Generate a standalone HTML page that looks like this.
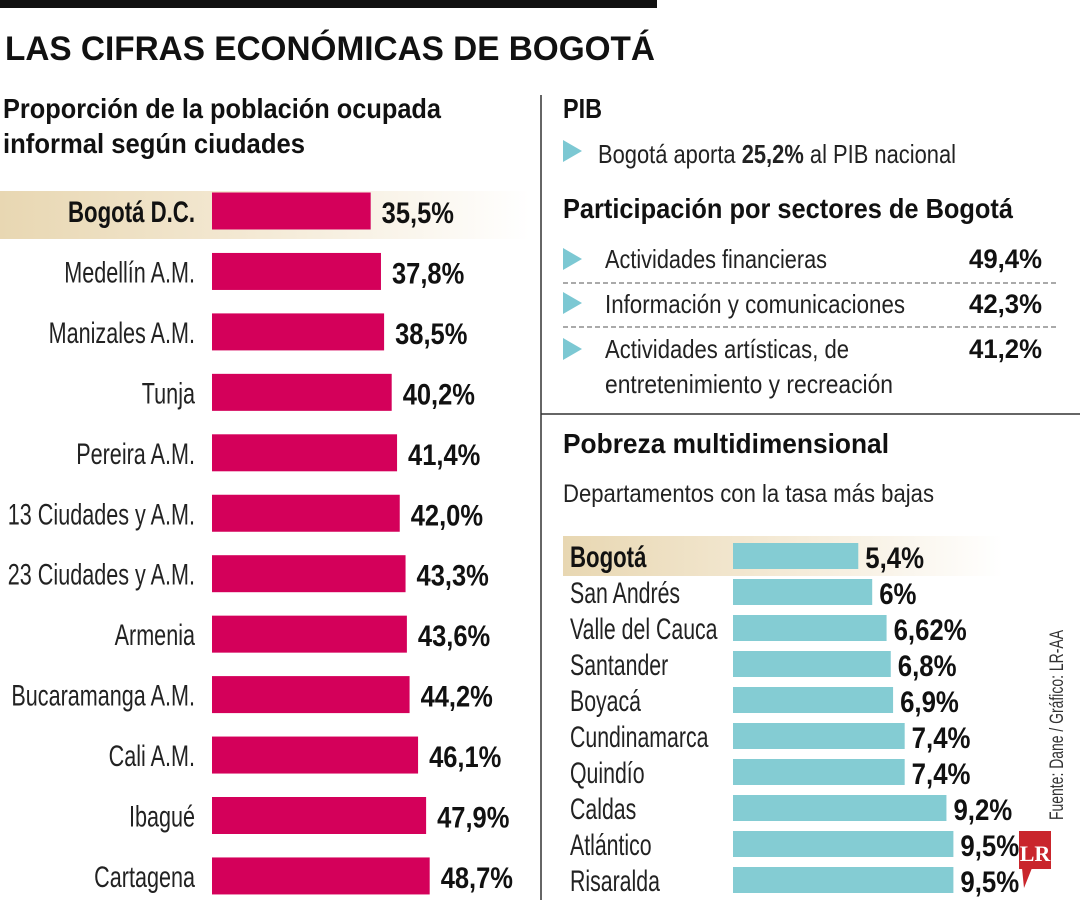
<!DOCTYPE html>
<html><head><meta charset="utf-8"><style>
html,body{margin:0;padding:0;background:#fff;}
svg{display:block;font-family:"Liberation Sans",sans-serif;}
</style></head><body>
<svg id="c" width="1080" height="900" viewBox="0 0 1080 900" xmlns="http://www.w3.org/2000/svg">
<defs>
<linearGradient id="hl" x1="0" x2="1" y1="0" y2="0">
<stop offset="0" stop-color="#e8d7b2"/><stop offset="0.45" stop-color="#f3e8d2"/><stop offset="1" stop-color="#ffffff"/>
</linearGradient>
</defs>
<rect x="0" y="0" width="657" height="8" fill="#111"/>
<text x="5" y="60" font-size="34" font-weight="bold" textLength="650" lengthAdjust="spacingAndGlyphs" fill="#111">LAS CIFRAS ECONÓMICAS DE BOGOTÁ</text>
<text x="3" y="118" font-size="28" font-weight="bold" textLength="438" lengthAdjust="spacingAndGlyphs" fill="#111">Proporción de la población ocupada</text>
<text x="3" y="153" font-size="28" font-weight="bold" textLength="302" lengthAdjust="spacingAndGlyphs" fill="#111">informal según ciudades</text>
<line x1="541" y1="95" x2="541" y2="900" stroke="#333" stroke-width="1.5"/>
<rect x="0" y="191" width="530" height="48" fill="url(#hl)"/>

<text x="563" y="118" font-size="28" font-weight="bold" textLength="39" lengthAdjust="spacingAndGlyphs" fill="#111">PIB</text>
<polygon points="563,140 582,151 563,162" fill="#7cc8d3"/>
<text x="598" y="163" font-size="26" textLength="358" lengthAdjust="spacingAndGlyphs" fill="#222">Bogotá aporta <tspan font-weight="bold">25,2%</tspan> al PIB nacional</text>
<text x="563" y="218" font-size="28" font-weight="bold" textLength="450" lengthAdjust="spacingAndGlyphs" fill="#111">Participación por sectores de Bogotá</text>

<polygon points="563,248 582,259 563,270" fill="#7cc8d3"/>
<text x="605" y="268" font-size="26" textLength="222" lengthAdjust="spacingAndGlyphs" fill="#222">Actividades financieras</text>
<text x="1042" y="268" font-size="27" font-weight="bold" text-anchor="end" textLength="73" lengthAdjust="spacingAndGlyphs" fill="#111">49,4%</text>
<line x1="563" y1="283" x2="1056" y2="283" stroke="#555" stroke-dasharray="5,3"/>
<polygon points="563,292 582,303 563,314" fill="#7cc8d3"/>
<text x="605" y="313" font-size="26" textLength="300" lengthAdjust="spacingAndGlyphs" fill="#222">Información y comunicaciones</text>
<text x="1042" y="313" font-size="27" font-weight="bold" text-anchor="end" textLength="73" lengthAdjust="spacingAndGlyphs" fill="#111">42,3%</text>
<line x1="563" y1="327" x2="1056" y2="327" stroke="#555" stroke-dasharray="5,3"/>
<polygon points="563,338 582,349 563,360" fill="#7cc8d3"/>
<text x="605" y="358" font-size="26" textLength="244" lengthAdjust="spacingAndGlyphs" fill="#222">Actividades artísticas, de</text>
<text x="605" y="393" font-size="26" textLength="288" lengthAdjust="spacingAndGlyphs" fill="#222">entretenimiento y recreación</text>
<text x="1042" y="358" font-size="27" font-weight="bold" text-anchor="end" textLength="73" lengthAdjust="spacingAndGlyphs" fill="#111">41,2%</text>
<line x1="541" y1="414" x2="1080" y2="414" stroke="#333" stroke-width="1.5"/>

<text x="563" y="453" font-size="28" font-weight="bold" textLength="326" lengthAdjust="spacingAndGlyphs" fill="#111">Pobreza multidimensional</text>
<text x="563" y="502" font-size="25" textLength="371" lengthAdjust="spacingAndGlyphs" fill="#222">Departamentos con la tasa más bajas</text>
<rect x="563" y="536" width="440" height="40" fill="url(#hl)"/>

<text transform="translate(1063,820) rotate(-90)" font-size="19" textLength="190" lengthAdjust="spacingAndGlyphs" fill="#333">Fuente: Dane / Gráfico: LR-AA</text>
<g>
<rect x="1019" y="831" width="32" height="38" fill="#c9252c"/>
<polygon points="1022,868 1032,868 1024,888" fill="#c9252c"/>
<text x="1035" y="861" font-size="22" font-weight="bold" font-family="Liberation Serif,serif" text-anchor="middle" fill="#fff">LR</text>
</g>
<g id="left"></g>
<g id="right"></g>
</svg>
<script>
const cities = ["Bogotá D.C.","Medellín A.M.","Manizales A.M.","Tunja","Pereira A.M.","13 Ciudades y A.M.","23 Ciudades y A.M.","Armenia","Bucaramanga A.M.","Cali A.M.","Ibagué","Cartagena"];
const informality = [35.5,37.8,38.5,40.2,41.4,42.0,43.3,43.6,44.2,46.1,47.9,48.7];
const informalityLabels = ["35,5%","37,8%","38,5%","40,2%","41,4%","42,0%","43,3%","43,6%","44,2%","46,1%","47,9%","48,7%"];
const departments = ["Bogotá","San Andrés","Valle del Cauca","Santander","Boyacá","Cundinamarca","Quindío","Caldas","Atlántico","Risaralda"];
const poverty = [5.4,6,6.62,6.8,6.9,7.4,7.4,9.2,9.5,9.5];
const povertyLabels = ["5,4%","6%","6,62%","6,8%","6,9%","7,4%","7,4%","9,2%","9,5%","9,5%"];

const NS="http://www.w3.org/2000/svg";
function mk(tag, attrs, parent){const e=document.createElementNS(NS,tag);for(const k in attrs)e.setAttribute(k,attrs[k]);parent.appendChild(e);return e;}
function label(parent,x,y,str,size,bold,anchor,sx){
  const t=mk("text",{transform:`translate(${x},${y}) scale(${sx},1)`,"font-size":size,"font-weight":bold?"bold":"normal","text-anchor":anchor,fill:bold?"#111":"#222"},parent);
  t.textContent=str;return t;
}
const L={x0:212,k:4.47,y0:211,step:60.45,h:37};
const xL=v=>L.k*v, yL=i=>L.y0+i*L.step;
const gl=document.getElementById("left");
cities.forEach((c,i)=>{
  const r=mk("rect",{x:L.x0,y:yL(i)-L.h/2,width:xL(informality[i]),height:L.h,fill:"#d4005a"},gl);
  
  
  const t=label(gl,195,yL(i)+11,c,30,i===0,"end",i===0?0.74:0.72);
  
  
  const v=label(gl,L.x0+xL(informality[i])+11,yL(i)+12,informalityLabels[i],30,true,"start",0.85);
  
  
});
const R={x0:733,k:23.2,y0:556,step:36,h:26};
const xR=v=>R.k*v, yR=i=>R.y0+i*R.step;
const gr=document.getElementById("right");
departments.forEach((d,i)=>{
  const r=mk("rect",{x:R.x0,y:yR(i)-R.h/2,width:xR(poverty[i]),height:R.h,fill:"#84ccd3"},gr);
  
  
  const t=label(gr,570,yR(i)+11,d,30,i===0,"start",i===0?0.74:0.71);
  
  
  const v=label(gr,R.x0+xR(poverty[i])+7,yR(i)+12,povertyLabels[i],30,true,"start",0.86);
  
  
});
</script>
</body></html>
